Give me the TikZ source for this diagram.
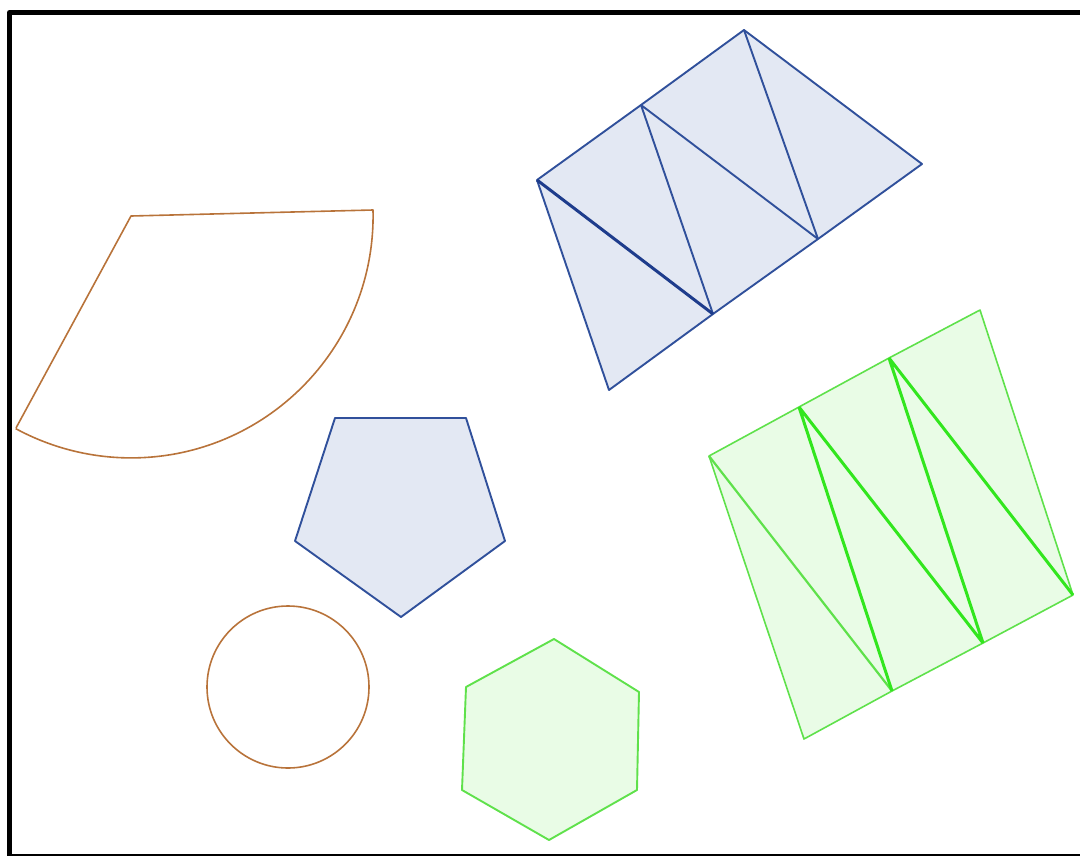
\documentclass[tikz,border=0pt]{standalone}
\begin{document}
\begin{tikzpicture}[x=1pt,y=-1pt,line join=round,
  orangeline/.style={draw=orangec,line width=1.6pt},
  blueoutline/.style={draw=bluec,line width=1.9pt,fill=bluefill},
  blueinner/.style={draw=bluec,line width=1.9pt},
  bluethick/.style={draw=bluedark,line width=3pt},
  greenoutline/.style={draw=greenc,line width=1.6pt,fill=greenfill},
  greeninner/.style={draw=greenc,line width=2.2pt},
  greenthick/.style={draw=greenb,line width=3pt}]
\definecolor{orangec}{RGB}{184,115,58}
\definecolor{bluec}{RGB}{48,80,155}
\definecolor{bluedark}{RGB}{30,60,140}
\definecolor{bluefill}{RGB}{227,232,243}
\definecolor{greenc}{RGB}{95,225,75}
\definecolor{greenb}{RGB}{50,230,30}
\definecolor{greenfill}{RGB}{233,252,230}
\useasboundingbox (0,0) rectangle (1080,855);
% frame
\draw[line width=5pt] (9.5,12.5) rectangle (1100,856.5);
% sector
\coordinate (sc) at (131,216);
\draw[orangeline] (16,428) -- (sc) -- (373,210) arc[start angle=-1.4,end angle=118.5,radius=242];
% circle
\draw[orangeline] (288,687) circle[radius=81];
% pentagon
\draw[blueoutline]
  (335,418) -- (466,418) -- (505,541) -- (401,617) -- (295,541) -- cycle;
% hexagon
\draw[greenoutline,line width=1.9pt]
  (554,639) -- (639,692) -- (637,790) -- (549,840) -- (462,790) -- (466,687) -- cycle;
% blue strip
\coordinate (A) at (537,180);
\coordinate (G) at (641,105);
\coordinate (B) at (744,30);
\coordinate (C) at (922,164);
\coordinate (D) at (818,239);
\coordinate (E) at (713,314);
\coordinate (F) at (609,390);
\draw[blueoutline] (A) -- (G) -- (B) -- (C) -- (D) -- (E) -- (F) -- cycle;
\draw[blueinner] (G) -- (E) (G) -- (D) (B) -- (D);
\draw[bluethick] (A) -- (E);
% green strip
\coordinate (P6) at (709,456);
\coordinate (P7) at (799,407);
\coordinate (P8) at (889,358);
\coordinate (P1) at (980,310);
\coordinate (P2) at (1073,595);
\coordinate (P3) at (983,643);
\coordinate (P4) at (892,691);
\coordinate (P5) at (804,739);
\draw[greenoutline] (P6) -- (P7) -- (P8) -- (P1) -- (P2) -- (P3) -- (P4) -- (P5) -- cycle;
\draw[greeninner] (P6) -- (P4);
\draw[greenthick] (P7) -- (P4) (P7) -- (P3) (P8) -- (P3) (P8) -- (P2);
\end{tikzpicture}
\end{document}
